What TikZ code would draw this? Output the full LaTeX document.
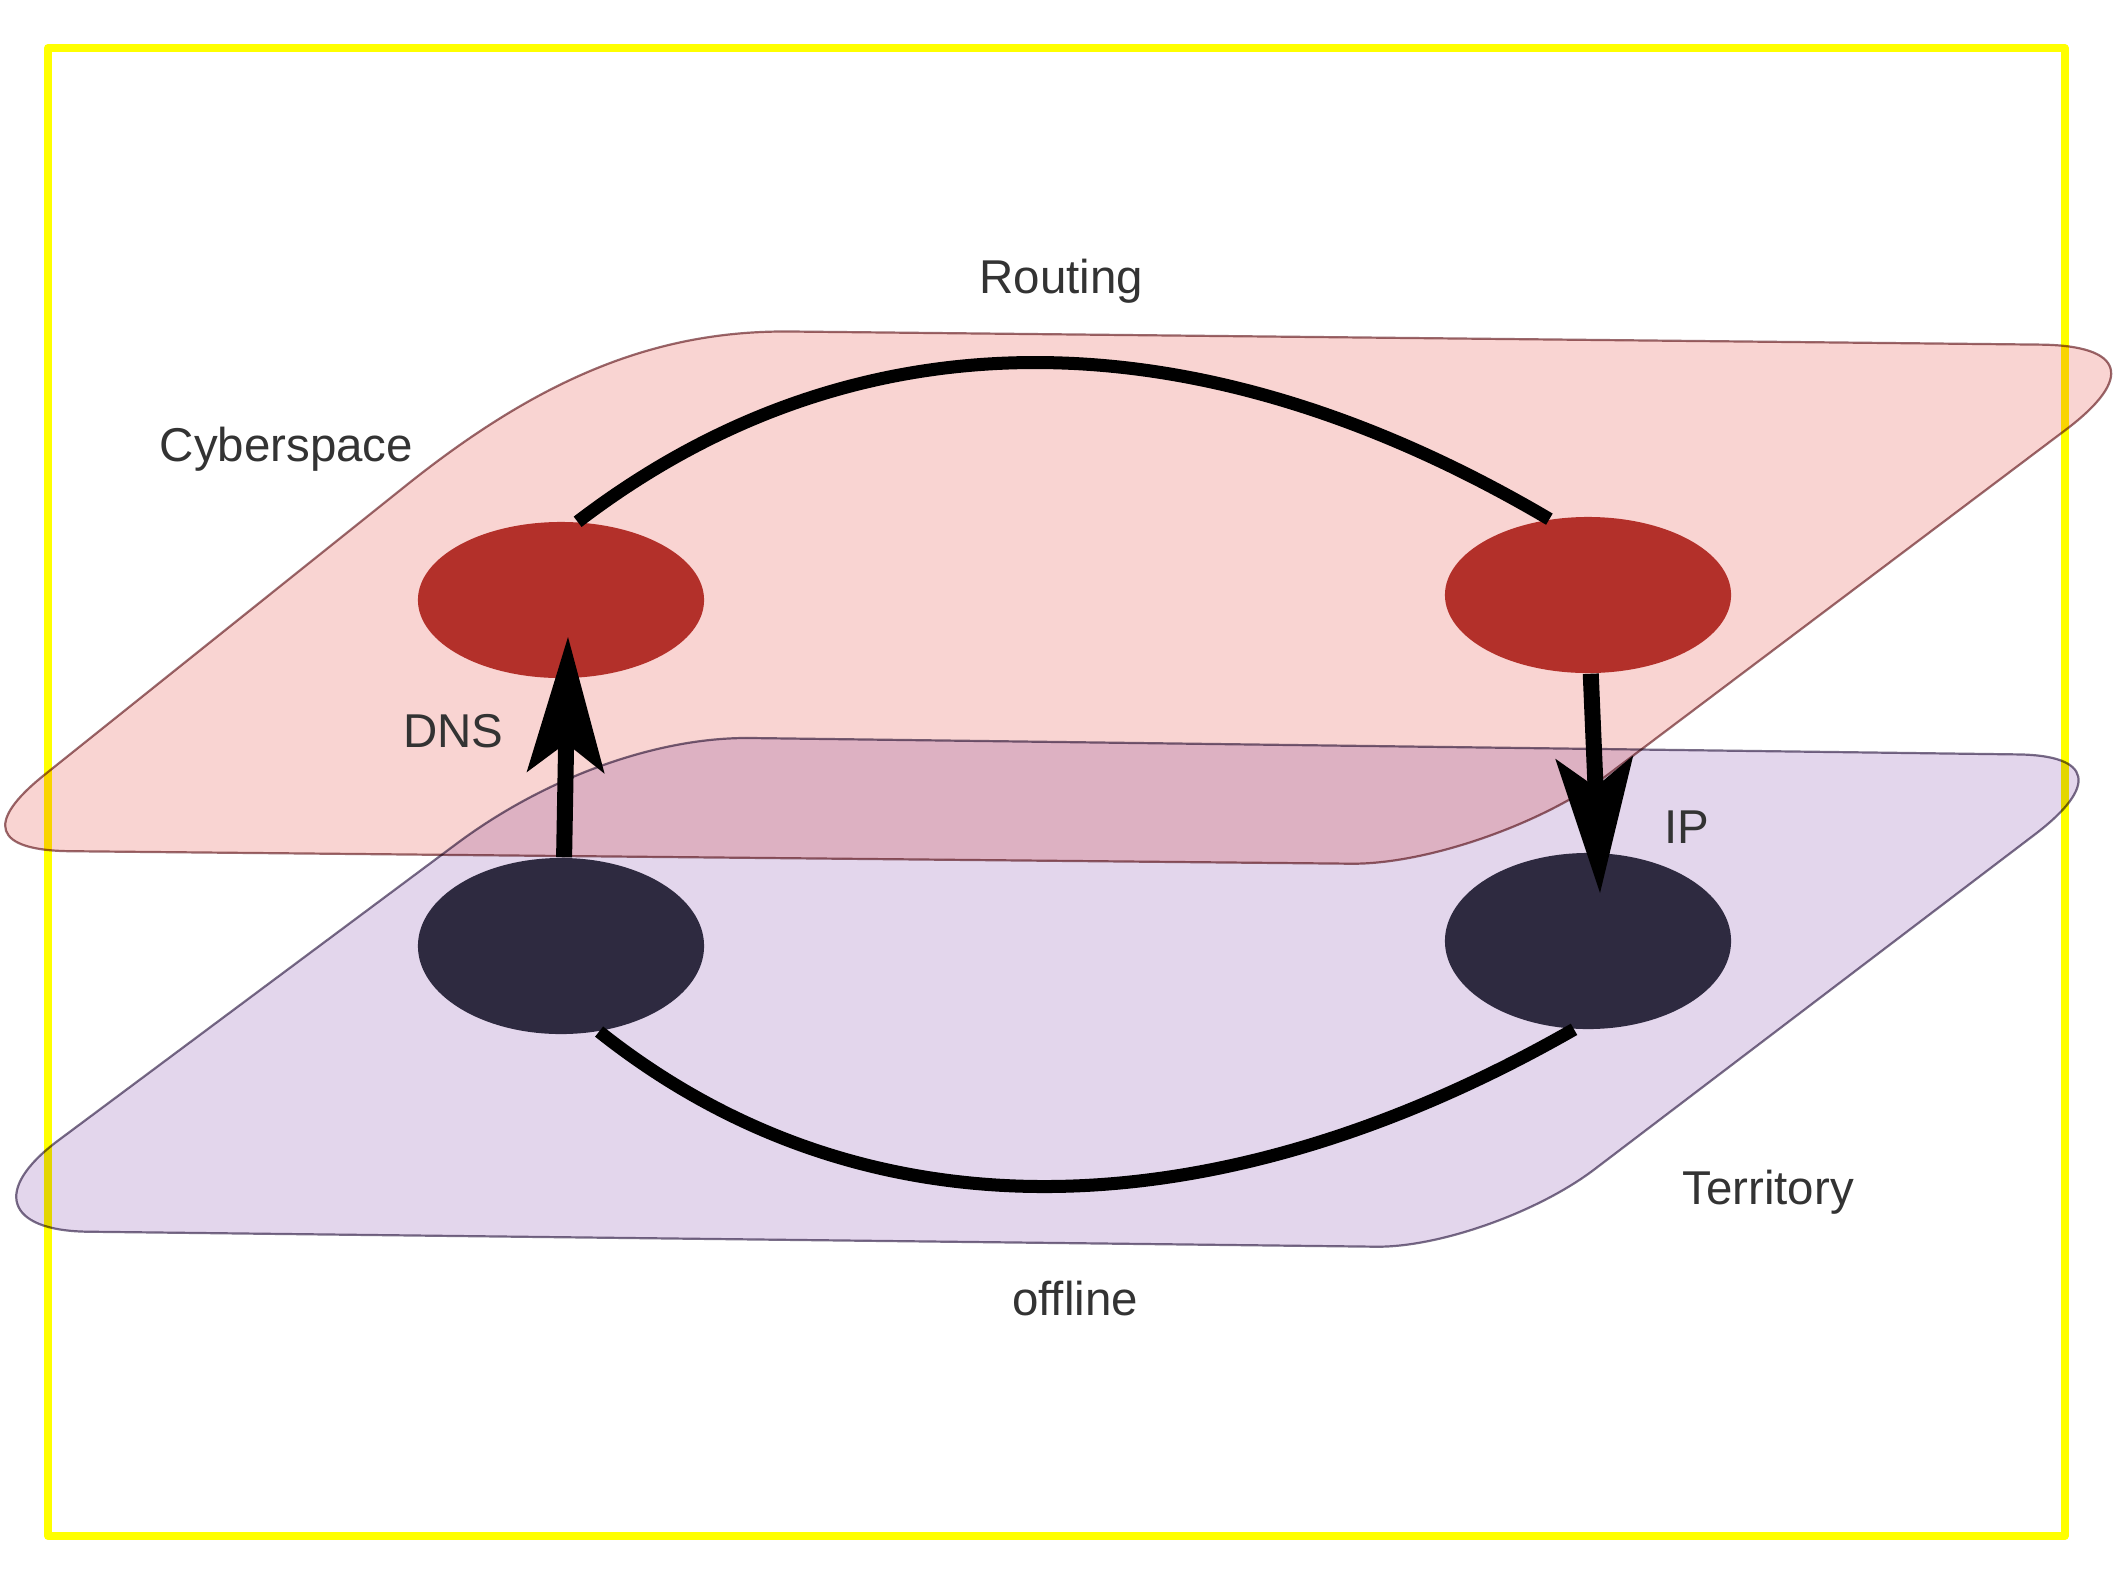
\documentclass[tikz,border=0pt]{standalone}
\usepackage{fontspec}
\setmainfont{Liberation Sans}
\usetikzlibrary{shapes.geometric,arrows.meta,calc}
\definecolor{pinkfill}{HTML}{F9D4D2}
\definecolor{pinkedge}{HTML}{9A6A6E}
\definecolor{purplefill}{HTML}{E3D6EC}
\definecolor{purpleedge}{HTML}{7A6E88}
\definecolor{nodered}{HTML}{B3302A}
\definecolor{nodedark}{HTML}{2E2A40}
\definecolor{labelgray}{HTML}{333333}
\definecolor{frameyellow}{HTML}{FFFF00}
\begin{document}
\begin{tikzpicture}[x=0.01cm,y=-0.01cm,
  frame/.style={draw=frameyellow, line width=0.08cm, line join=round},
  pinkplane/.style={fill=pinkfill, draw=pinkedge, line width=0.022cm},
  purpleplane/.style={fill=purplefill, draw=purpleedge, line width=0.022cm},
  rednode/.style={ellipse, fill=nodered, minimum width=2.86cm, minimum height=1.56cm, inner sep=0pt},
  darknode/.style={ellipse, fill=nodedark, minimum width=2.86cm, minimum height=1.76cm, inner sep=0pt},
  arcline/.style={draw=black, line width=0.13cm},
  flow/.style={draw=black, line width=0.16cm, -{Stealth[length=1.36cm,width=0.78cm,inset=0.3cm,line width=0pt]}},
  lab/.style={font=\fontsize{13.5}{16}\selectfont, text=labelgray, inner sep=0pt, anchor=base}
]
\useasboundingbox (0,0) rectangle (2118,1587);

% yellow frame
\draw[frame] (48,48) rectangle (2064.5,1536);

% plane corner vertices
\coordinate (pTL) at (601,329.5);
\coordinate (pTR) at (2177,346);
\coordinate (pBR) at (1488,865);
\coordinate (pBL) at (-49.5,850);
\coordinate (qTL) at (601,736);
\coordinate (qTR) at (2138,756);
\coordinate (qBR) at (1491,1248);
\coordinate (qBL) at (-62,1230);

\begin{scope}[blend mode=multiply]
% Territory plane
\path[purpleplane] (751,738) -- (2018,754.4)
  .. controls ($(2018,754.4)!0.62!(qTR)$) and ($(2034.5,834.7)!0.62!(qTR)$) .. (2034.5,834.7)
  -- (1594.5,1169.3)
  .. controls ($(1594.5,1169.3)!0.55!(qBR)$) and ($(1376,1246.7)!0.55!(qBR)$) .. (1376,1246.7)
  -- (88,1231.7)
  .. controls ($(88,1231.7)!0.55!(qBL)$) and ($(58.3,1140.4)!0.55!(qBL)$) .. (58.3,1140.4)
  -- (456.7,843.6)
  .. controls ($(456.7,843.6)!0.62!(qTL)$) and ($(751,738)!0.62!(qTL)$) .. (751,738)
  -- cycle;
% Cyberspace plane
\path[pinkplane] (791,331.5) -- (2040,344.6)
  .. controls ($(2040,344.6)!0.62!(pTR)$) and ($(2065.2,430.2)!0.62!(pTR)$) .. (2065.2,430.2)
  -- (1607.8,774.7)
  .. controls ($(1607.8,774.7)!0.55!(pBR)$) and ($(1351,863.7)!0.55!(pBR)$) .. (1351,863.7)
  -- (70.5,851.2)
  .. controls ($(70.5,851.2)!0.64!(pBL)$) and ($(44.2,775)!0.64!(pBL)$) .. (44.2,775)
  -- (406,485.5)
  .. controls ($(406,485.5)!0.7!(pTL)$) and ($(791,331.5)!0.7!(pTL)$) .. (791,331.5)
  -- cycle;
\end{scope}

% nodes
\node[rednode] (tl) at (561,600) {};
\node[rednode] (tr) at (1588,595) {};
\node[darknode] (bl) at (561,946) {};
\node[darknode] (br) at (1588,941) {};

% arcs
\draw[arcline] (tl.78) .. controls (870,298) and (1215,322) .. (tr.117);
\draw[arcline] (bl.-66) .. controls (884,1258) and (1244,1218) .. (br.-99);

% arrows
\coordinate (dnsTip) at (568,637);
\coordinate (ipTip) at (1600,893);
\draw[flow] (bl.88) -- (dnsTip);
\draw[flow] (tr.-88) -- (ipTip);

% labels
\node[lab] (routing) at (1061.5,293) {Routing};
\node[lab] (cyber) at (286.5,461) {Cyberspace};
\node[lab] (dns) at (453.5,747) {DNS};
\node[lab] (ip) at (1687,843) {IP};
\node[lab] (territory) at (1768,1204) {Territory};
\node[lab] (offline) at (1075,1315) {offline};
\end{tikzpicture}
\end{document}
